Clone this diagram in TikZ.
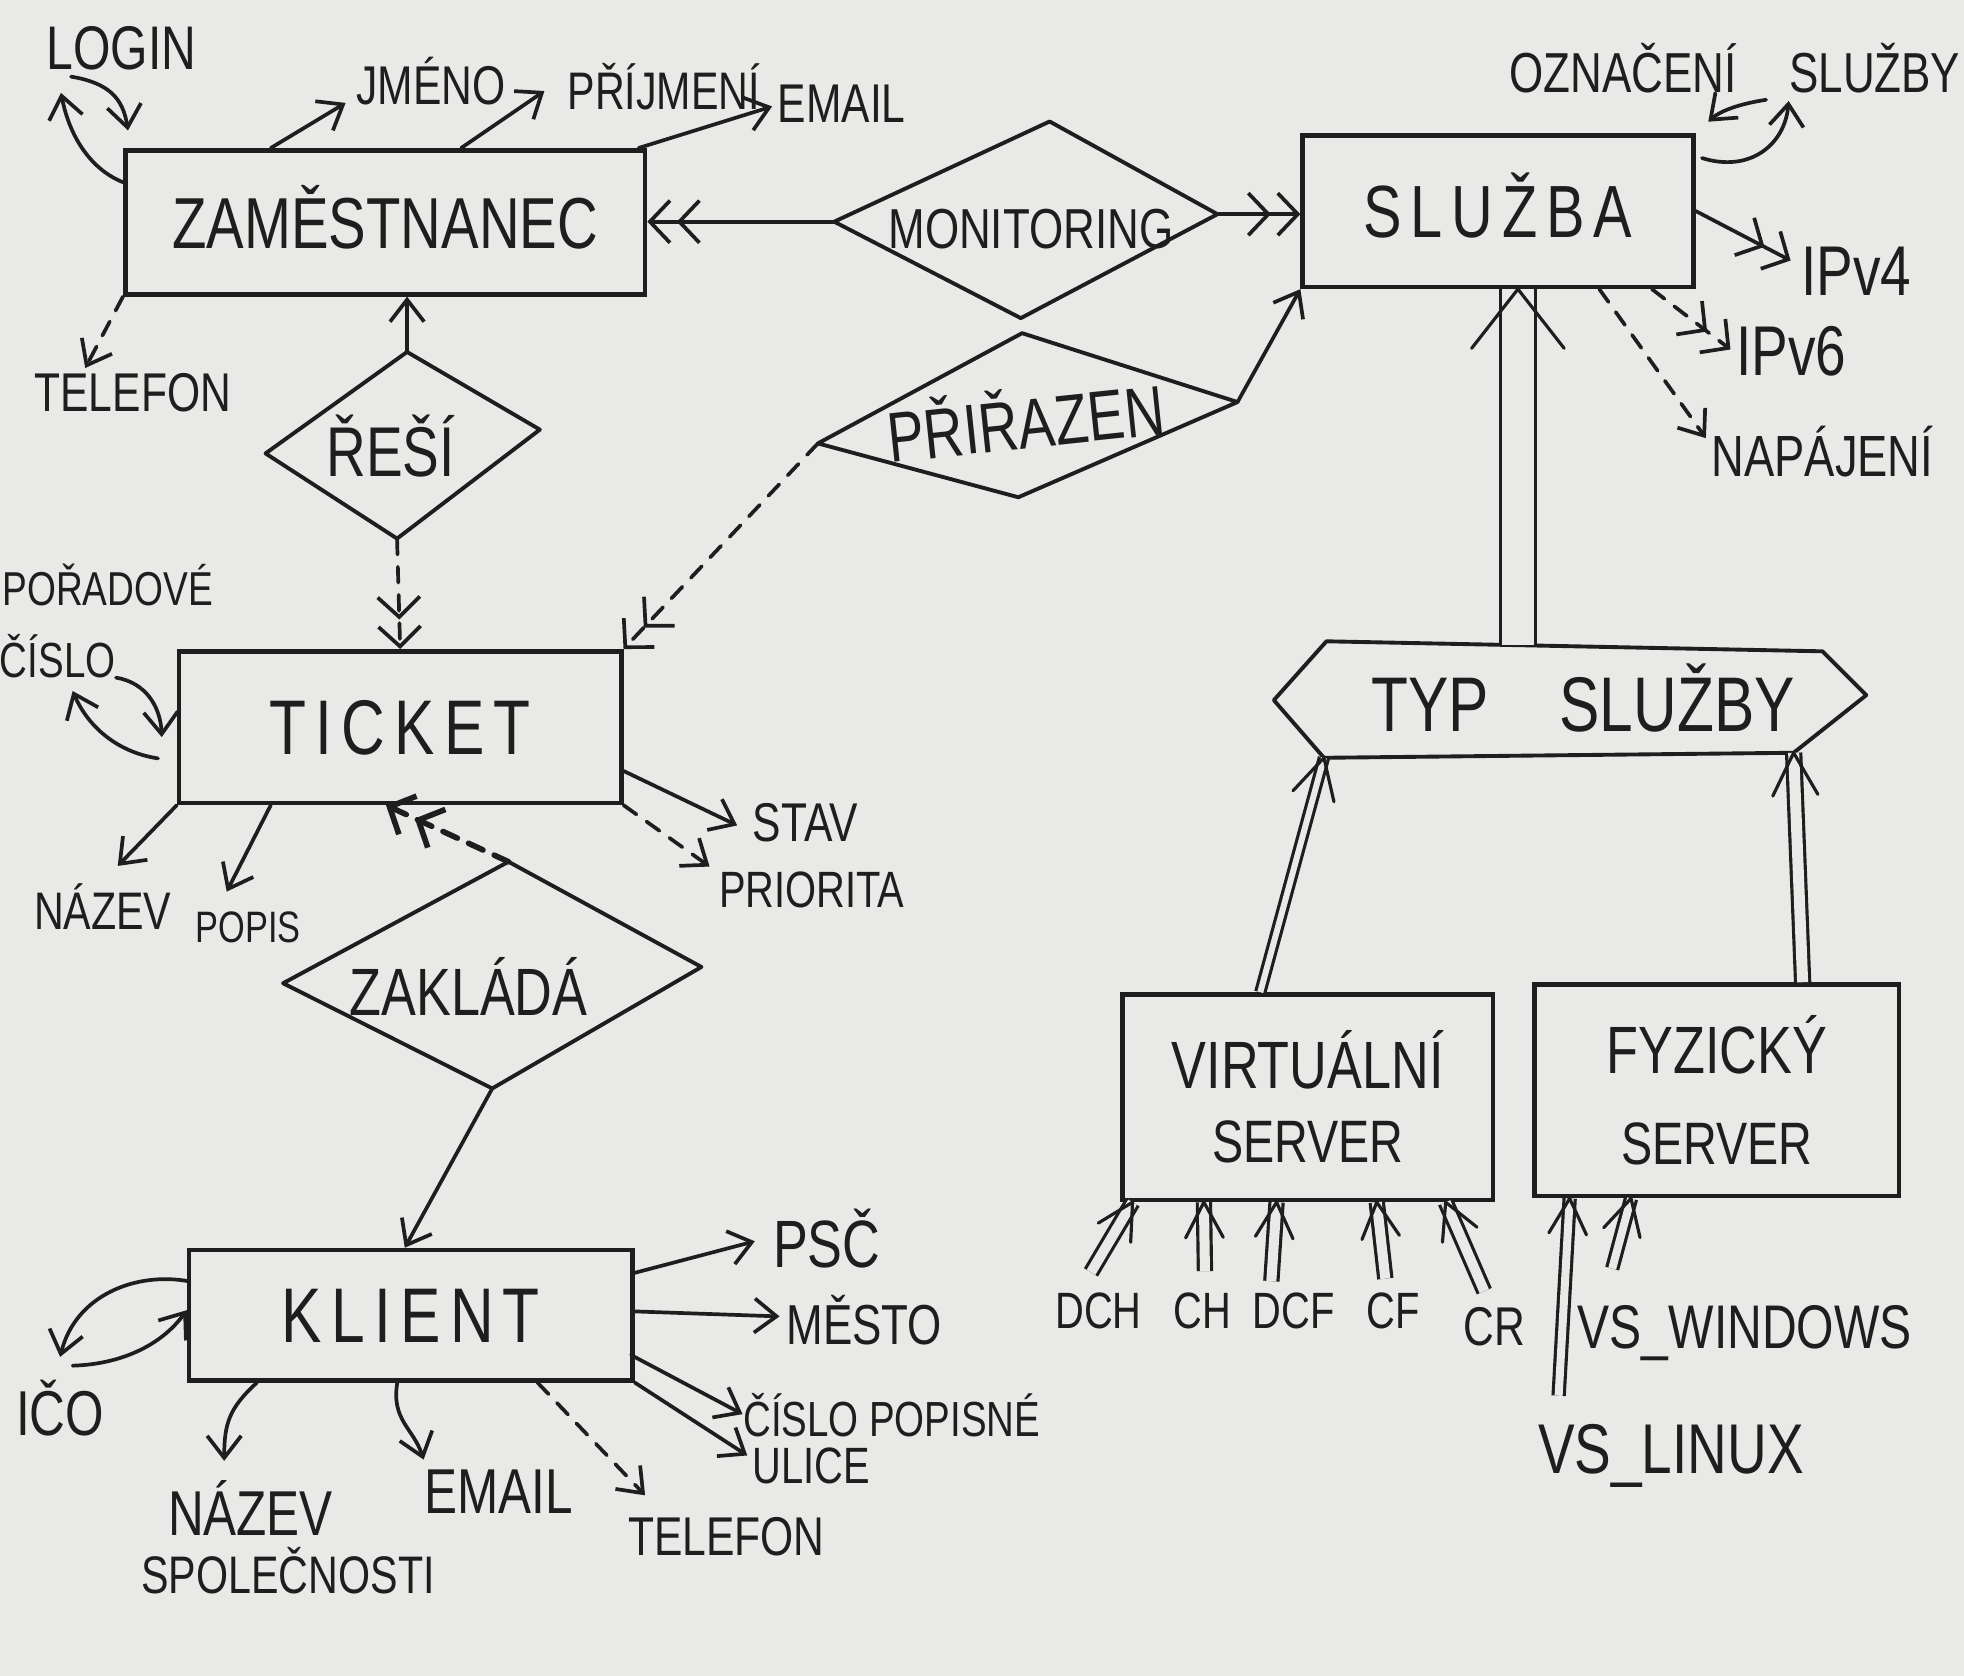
\documentclass[tikz,border=0pt]{standalone}
\usepackage{fontspec}
\setmainfont{Liberation Sans}[FakeStretch=0.78]
\newfontfamily\spaced{Liberation Sans}[FakeStretch=0.78,LetterSpace=12]
\usetikzlibrary{arrows.meta,calc}
\definecolor{bgc}{RGB}{233,233,231}
\definecolor{ink}{RGB}{30,30,30}
\newcommand\fsz[1]{\fontsize{#1}{#1}\selectfont}
\newcommand\pxu{0.0125cm}
\tikzset{
  fs/.style={font=\fsz{#1}, /utils/exec={\pgfmathsetmacro\mycapht{#1*0.716}}, text height=\mycapht pt, text depth=0pt},
  lbl/.style={inner sep=0pt, text=ink},
  ebox/.style={draw=ink, line width=1.3pt, inner sep=0pt, text=ink},
  rel/.style={draw=ink, line width=1.1pt, line join=round},
  ln/.style={draw=ink, line width=1.05pt, line cap=round},
  tipa/.style={-{Straight Barb[length=0.22cm,width=0.34cm]}},
  tipb/.style={-{Straight Barb[length=0.2cm,width=0.42cm,sep=0.05cm]Straight Barb[length=0.2cm,width=0.42cm]}},
  dsh/.style={dash pattern=on 4.5pt off 3.5pt},
  isaline/.style={draw=ink, line width=0.9pt, double=bgc},
}
% double-line (ISA) arrow: start, apex, double distance, barb length, half angle
\newcommand\isa[5]{%
  \draw[isaline, double distance=#3] (#1) -- (#2);
  \draw[ln, line width=0.9pt, line join=round] ($(#2)!#4!#5:(#1)$) -- (#2) -- ($(#2)!#4!-#5:(#1)$);
}
\begin{document}
\begin{tikzpicture}[x=0.0125cm,y=-0.0125cm]
\fill[bgc] (0,0) rectangle (1568,1338);
\useasboundingbox (0,0) rectangle (1568,1338);

% ---------- entities ----------
\node[ebox, fs=20.5, minimum width=415*\pxu, minimum height=115*\pxu] (zam) at (307.5,177.5) {ZAMĚSTNANEC};
\node[ebox, fs=21, font=\spaced\fsz{21}, minimum width=312*\pxu, minimum height=121*\pxu] (sluzba) at (1196,168.5) {SLUŽBA};
\node[ebox, fs=22, font=\spaced\fsz{22}, minimum width=353*\pxu, minimum height=121*\pxu] (ticket) at (319.5,580.5) {TICKET};
\node[ebox, fs=22, font=\spaced\fsz{22}, minimum width=354*\pxu, minimum height=104*\pxu] (klient) at (328,1050) {KLIENT};
\node[ebox, font=\fsz{19}, align=center, minimum width=296*\pxu, minimum height=164*\pxu] (virt) at (1044,876) {VIRTUÁLNÍ\\[2pt]{\fsz{17}SERVER}};
\node[ebox, font=\fsz{19}, align=center, minimum width=291*\pxu, minimum height=169*\pxu] (fyz) at (1370.5,870.5) {FYZICKÝ\\[7pt]{\fsz{17}SERVER}};

% ---------- relationships ----------
\coordinate (mL) at (666,177); \coordinate (mT) at (838,97);
\coordinate (mR) at (972,171); \coordinate (mB) at (815,254);
\draw[rel] (mL) -- (mT) -- (mR) -- (mB) -- cycle;
\node[lbl, fs=16] (monitoring) at (823,182) {MONITORING};

\coordinate (pL) at (653,354); \coordinate (pT) at (816,266);
\coordinate (pR) at (988,321); \coordinate (pB) at (813,397);
\draw[rel] (pL) -- (pT) -- (pR) -- (pB) -- cycle;
\node[lbl, fs=20, rotate=6] (prirazen) at (819,338) {PŘIŘAZEN};

\coordinate (rL) at (212,362); \coordinate (rT) at (325,281);
\coordinate (rR) at (431,343); \coordinate (rB) at (317,430);
\draw[rel] (rL) -- (rT) -- (rR) -- (rB) -- cycle;
\node[lbl, fs=20] (resi) at (312,360) {ŘEŠÍ};

\coordinate (zT) at (406,688); \coordinate (zL) at (226,785);
\coordinate (zR) at (560,772); \coordinate (zB) at (393,869);
\draw[rel] (zL) -- (zT) -- (zR) -- (zB) -- cycle;
\node[lbl, fs=19] (zaklada) at (374,792) {ZAKLÁDÁ};

\coordinate (tL) at (1017,559); \coordinate (tTL) at (1059,512);
\coordinate (tTR) at (1455,520); \coordinate (tR) at (1490,555);
\coordinate (tBR) at (1432,601); \coordinate (tBL) at (1057,605);
\draw[rel] (tL) -- (tTL) -- (tTR) -- (tR) -- (tBR) -- (tBL) -- cycle;
\node[lbl, fs=22] (typ) at (1264,562) {TYP\hspace{20pt}SLUŽBY};

% ---------- relationship connectors ----------
\draw[ln, tipb] (mL) -- (mL -| zam.east);
\draw[ln, tipb] (mR) -- (mR -| sluzba.west);
\draw[ln, tipa] (pR) -- (sluzba.south west);
\draw[ln, tipb, dsh] (pL) -- (ticket.north east);
\draw[ln, tipa] (rT) -- (rT |- zam.south);
\draw[ln, tipb, dsh] (rB) -- (ticket.north);
\draw[ln, tipb, dsh, line width=1.6pt] (zT) -- ($(ticket.south west)+(167,0)$);
\draw[ln, tipa] (zB) -- ($(klient.north west)+(174,0)$);

% ---------- ZAMESTNANEC attributes ----------
\node[lbl, fs=17.5] (login) at (97,38) {LOGIN};
\node[lbl, fs=15.5] (jmeno) at (344,68) {JMÉNO};
\node[lbl, fs=15] (prijmeni) at (530,72) {PŘÍJMENÍ};
\node[lbl, fs=15.5] (email1) at (672,82) {EMAIL};
\node[lbl, fs=15.5] (telefon1) at (106,313) {TELEFON};
\draw[ln, tipa] ($(zam.north west)+(118,0)$) -- ($(jmeno.south west)+(-8,-2)$);
\draw[ln, tipa] ($(zam.north west)+(270,0)$) -- ($(prijmeni.south west)+(-18,-15)$);
\draw[ln, tipa] ($(zam.north east)+(-7,0)$) -- ($(email1.west)+(-4,3)$);
\draw[ln, tipa, dsh] (zam.south west) -- ($(telefon1.north west)+(41,-3)$);
\draw[ln, tipa] ($(zam.west)+(0,-32)$) .. controls +(-25,-10) and +(7,36) .. ($(login.south west)+(12,18)$);
\draw[ln, tipa] ($(login.south west)+(20,5)$) .. controls +(30,5) and +(-4,-26) .. ($(zam.north west)+(4,-14)$);

% ---------- SLUZBA attributes ----------
\node[lbl, fs=16] (oznaceni) at (1385,58) {OZNAČENÍ\hspace{15pt}SLUŽBY};
\node[lbl, fs=20] (ipv4) at (1482,216) {IPv4};
\node[lbl, fs=20] (ipv6) at (1430,280) {IPv6};
\node[lbl, fs=16.5] (napajeni) at (1455,364) {NAPÁJENÍ};
\draw[ln, tipb] (sluzba.east) -- ($(ipv4.west)+(-8,-8)$);
\draw[ln, tipb, dsh] ($(sluzba.south east)+(-35,0)$) -- ($(ipv6.west)+(-4,-1)$);
\draw[ln, tipa, dsh] ($(sluzba.south east)+(-77,0)$) -- ($(napajeni.north west)+(-4,3)$);
\draw[ln, tipa] ($(sluzba.north east)+(5,20)$) .. controls +(38,12) and +(-3,35) .. ($(oznaceni.south)+(43,6)$);
\draw[ln, tipa] ($(oznaceni.south)+(25,5)$) .. controls +(-20,3) and +(10,-9) .. ($(sluzba.north east)+(10,-9)$);

% ---------- TICKET attributes ----------
\node[lbl, fs=13.5] (poradove) at (86,470) {POŘADOVÉ};
\node[lbl, fs=14] (cislo) at (46,527) {ČÍSLO};
\node[lbl, fs=15] (nazev1) at (82,727) {NÁZEV};
\node[lbl, fs=12.5] (popis) at (198,740) {POPIS};
\node[lbl, fs=15.5] (stav) at (643,656) {STAV};
\node[lbl, fs=14.5] (priorita) at (648,710) {PRIORITA};
\draw[ln, tipa] (ticket.south west) -- ($(nazev1.north)+(12,-20)$);
\draw[ln, tipa] ($(ticket.south west)+(75,0)$) -- ($(popis.north)+(-17,-15)$);
\draw[ln, tipa] ($(ticket.east)+(0,35)$) -- ($(stav.west)+(-12,3)$);
\draw[ln, tipa, dsh] (ticket.south east) -- ($(priorita.north west)+(-7,-3)$);
\draw[ln, tipa] ($(cislo.east)+(0,14)$) .. controls +(24,4) and +(-1,-24) .. ($(ticket.west)+(-12,8)$);
\draw[ln, tipa] ($(ticket.west)+(-15,25)$) .. controls +(-33,-5) and +(12,28) .. ($(cislo.south)+(12,10)$);

% ---------- KLIENT attributes ----------
\node[lbl, fs=19] (psc) at (660,993) {PSČ};
\node[lbl, fs=16] (mesto) at (690,1057) {MĚSTO};
\node[lbl, fs=14] (cispop) at (712,1133) {ČÍSLO POPISNÉ};
\node[lbl, fs=14.5] (ulice) at (648,1170) {ULICE};
\node[lbl, fs=15.5] (telefon2) at (580,1226) {TELEFON};
\node[lbl, fs=18] (email2) at (398,1190) {EMAIL};
\node[lbl, fs=18] (nazev2) at (200,1208) {NÁZEV};
\node[lbl, fs=15] (spolecnosti) at (230,1257) {SPOLEČNOSTI};
\node[lbl, fs=18] (ico) at (48,1128) {IČO};
\draw[ln, tipa] ($(klient.north east)+(0,20)$) -- ($(psc.west)+(-14,-2)$);
\draw[ln, tipa] ($(klient.east)+(0,-3)$) -- ($(mesto.west)+(-5,-6)$);
\draw[ln, tipa] ($(klient.south east)+(-3,-22)$) -- ($(cispop.west)+(0,-4)$);
\draw[ln, tipa] (klient.south east) -- ($(ulice.west)+(-4,-8)$);
\draw[ln, tipa, dsh] ($(klient.south west)+(280,0)$) -- ($(telefon2.north west)+(14,-16)$);
\draw[ln, tipa] ($(klient.south west)+(168,0)$) .. controls +(-5,30) and +(-8,-25) .. ($(email2.north west)+(0,-6)$);
\draw[ln, tipa] ($(klient.south west)+(56,0)$) .. controls +(-22,20) and +(0,-30) .. ($(nazev2.north)+(-21,-23)$);
\draw[ln, tipa] ($(klient.west)+(2,-27)$) .. controls +(-43,-8) and +(12,-49) .. ($(ico.north)+(0,-26)$);
\draw[ln, tipa] ($(ico.north)+(10,-19)$) .. controls +(37,-1) and +(-21,29) .. ($(klient.west)+(0,-4)$);

% ---------- generalisation ----------
\coordinate (tTop) at ($(tTL)!0.386!(tTR)$);
\coordinate (sApex) at (tTop |- sluzba.south);
\isa{tTop}{sApex}{0.32cm}{0.75cm}{38}
\coordinate (vTop) at ($(virt.north west)+(112,0)$);
\isa{vTop}{tBL}{0.06cm}{0.45cm}{28}
\coordinate (fTop) at ($(fyz.north west)+(216,0)$);
\isa{fTop}{tBR}{0.11cm}{0.48cm}{28}

% ---------- server attributes ----------
\node[lbl, fs=14.5] (dch) at (877,1046) {DCH};
\node[lbl, fs=14.5] (ch) at (960,1046) {CH};
\node[lbl, fs=14.5] (dcf) at (1033,1046) {DCF};
\node[lbl, fs=14.5] (cf) at (1112,1046) {CF};
\node[lbl, fs=15.5] (cr) at (1193,1059) {CR};
\node[lbl, fs=17.5] (vswin) at (1393,1059) {VS\_WINDOWS};
\node[lbl, fs=20] (vslinux) at (1334,1156) {VS\_LINUX};

\coordinate (dchS) at ($(dch.north)+(-6,-15)$); \coordinate (dchE) at ($(virt.south west)+(10,0)$);
\coordinate (chS) at ($(ch.north)+(2,-16)$);    \coordinate (chE) at ($(virt.south west)+(67,0)$);
\coordinate (dcfS) at ($(dcf.north)+(-18,-8)$); \coordinate (dcfE) at ($(virt.south west)+(125,0)$);
\coordinate (cfS) at ($(cf.north)+(-6,-10)$);   \coordinate (cfE) at ($(virt.south west)+(205,0)$);
\coordinate (crS) at ($(cr.north)+(-8,-12)$);   \coordinate (crE) at ($(virt.south west)+(260,0)$);
\coordinate (vlS) at ($(vslinux.north west)+(17,-21)$); \coordinate (vlE) at ($(fyz.south west)+(30,0)$);
\coordinate (vwS) at ($(vswin.north west)+(28,-28)$);   \coordinate (vwE) at ($(fyz.south west)+(79,0)$);
\isa{dchS}{dchE}{0.1cm}{0.4cm}{28}
\isa{chS}{chE}{0.1cm}{0.4cm}{28}
\isa{dcfS}{dcfE}{0.1cm}{0.4cm}{28}
\isa{cfS}{cfE}{0.1cm}{0.4cm}{28}
\isa{crS}{crE}{0.1cm}{0.4cm}{28}
\isa{vlS}{vlE}{0.08cm}{0.4cm}{28}
\isa{vwS}{vwE}{0.08cm}{0.4cm}{28}
\end{tikzpicture}
\end{document}
